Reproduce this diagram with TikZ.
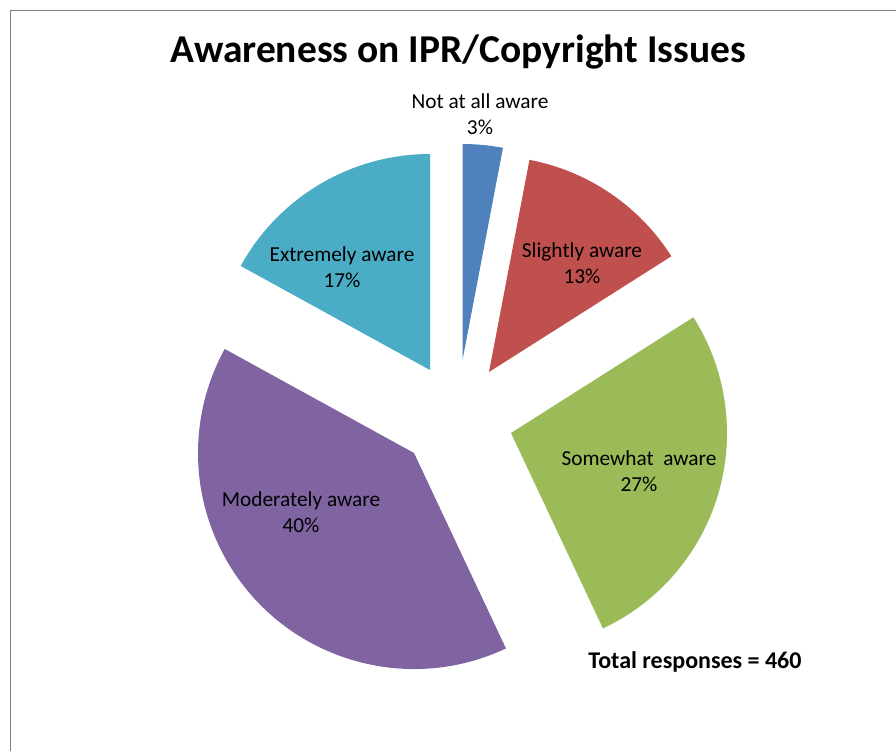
\documentclass[tikz,border=0pt]{standalone}
\usepackage{fontspec}
\setmainfont{Carlito}
\definecolor{sBlue}{HTML}{4F81BD}
\definecolor{sRed}{HTML}{C0504D}
\definecolor{sGreen}{HTML}{9BBB59}
\definecolor{sPurple}{HTML}{8064A2}
\definecolor{sAqua}{HTML}{4BACC6}
\definecolor{frameGray}{HTML}{808080}
\tikzset{
  slicelabel/.style={align=center, text=black, font=\fontsize{16}{19.5}\selectfont, inner sep=0pt},
  titletext/.style={font=\bfseries\fontsize{29.6}{34}\selectfont, inner sep=0pt},
  notetext/.style={font=\bfseries\fontsize{18}{22}\selectfont, inner sep=0pt},
}
\begin{document}
\begin{tikzpicture}[x=0.75pt,y=0.75pt]
\useasboundingbox (0,0) rectangle (896,-751);
\fill[white] (0,0) rectangle (896,-751);
% frame
\draw[frameGray, line width=1.4pt] (10.5,-751) -- (10.5,-10.5) -- (896,-10.5);
% slices (radius 216)
\def\R{216}
\fill[sBlue]   (462.5,-360) -- ++(90:\R)    arc[start angle=90,    end angle=79.2,   radius=\R] -- cycle;
\fill[sRed]    (489,-372)   -- ++(79.2:\R)  arc[start angle=79.2,  end angle=32.4,   radius=\R] -- cycle;
\fill[sGreen]  (511,-433)   -- ++(32.4:\R)  arc[start angle=32.4,  end angle=-64.8,  radius=\R] -- cycle;
\fill[sPurple] (414,-453)   -- ++(-64.8:\R) arc[start angle=-64.8, end angle=-208.8, radius=\R] -- cycle;
\fill[sAqua]   (430,-370)   -- ++(151.2:\R) arc[start angle=151.2, end angle=90,     radius=\R] -- cycle;
% title
\node[titletext] (title) at (458,-52) {Awareness on IPR/Copyright Issues};
% labels
\node[slicelabel] (lblue)   at (480,-114) {Not at all aware\\3\%};
\node[slicelabel] (laqua)   at (342,-267) {Extremely aware\\17\%};
\node[slicelabel] (lred)    at (582,-263) {Slightly aware\\13\%};
\node[slicelabel] (lgreen)  at (639,-471) {Somewhat\ \ aware\\27\%};
\node[slicelabel] (lpurple) at (301,-512) {Moderately aware\\40\%};
\node[notetext]   (total)   at (695,-662) {Total responses = 460};
\end{tikzpicture}
\end{document}
